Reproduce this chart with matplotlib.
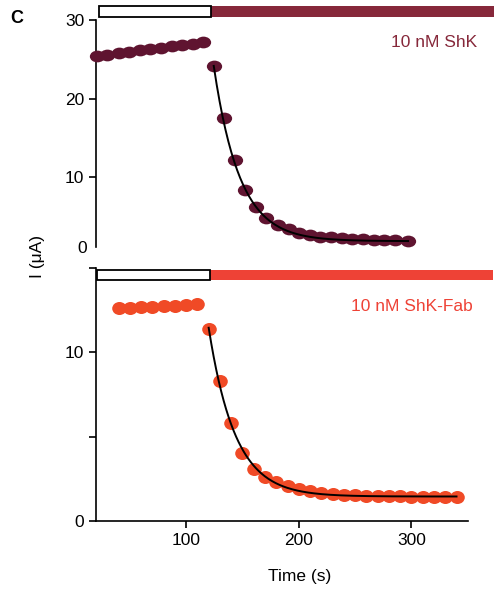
import numpy as np
import matplotlib.pyplot as plt
from matplotlib.path import Path
from matplotlib.patches import Rectangle
from matplotlib.transforms import Affine2D, blended_transform_factory

plt.rcParams["font.family"] = ["Liberation Sans", "DejaVu Sans"]
plt.rcParams["font.size"] = 12.5

# ShK recording (top trace)
shk_pre_t = [21, 30, 40, 49, 59, 68, 78, 87, 96, 106, 115]
shk_pre_i = [25.4, 25.6, 25.8, 26.0, 26.2, 26.35, 26.5, 26.7, 26.85, 27.0, 27.2]
shk_post_t = [124.5, 133.4, 143.1, 152.6, 162.4, 171.3, 181.3, 191.1, 200.5,
              210.3, 219.2, 228.6, 238.1, 247.6, 257.1, 266.5, 276.0, 285.5, 297.0]
shk_post_i = [24.2, 17.6, 12.2, 8.4, 6.2, 4.8, 3.95, 3.4, 2.9,
              2.67, 2.46, 2.38, 2.25, 2.17, 2.13, 2.04, 2.04, 2.0, 1.91]

# ShK-Fab recording (bottom trace)
fab_pre_t = [40, 50, 60, 70, 80, 90, 100, 110]
fab_pre_i = [12.6, 12.65, 12.7, 12.7, 12.75, 12.75, 12.8, 12.85]
fab_post_t = [120, 130, 140, 150, 160, 170, 180, 190, 200, 210, 220, 230,
              240, 250, 260, 270, 280, 290, 300, 310, 320, 330, 340]
fab_post_i = [11.4, 8.3, 5.8, 4.0, 3.1, 2.6, 2.3, 2.05, 1.9, 1.75, 1.65, 1.6,
              1.55, 1.52, 1.5, 1.48, 1.47, 1.46, 1.45, 1.45, 1.44, 1.44, 1.44]

# single-exponential fits: (start time, amplitude, tau, plateau)
shk_fit = (124.5, 22.3, 23.0, 1.9)
fab_fit = (120.0, 10.0, 23.5, 1.45)

shk_dot = "#5f1430"
shk_col = "#86283a"
fab_dot = "#f04a26"
fab_col = "#ee4236"

fig = plt.figure(figsize=(4.95, 5.9), dpi=100)
ax1 = fig.add_axes([0.194, 0.566, 0.751, 0.3995])
ax2 = fig.add_axes([0.194, 0.117, 0.751, 0.429])


def dot_marker(stretch):
    # circle widened horizontally
    return Path.unit_circle().transformed(Affine2D().scale(stretch, 1.0))


def fit_curve(p, t_end):
    t0, a, tau, c = p
    t = np.linspace(t0, t_end, 200)
    return t, c + a * np.exp(-(t - t0) / tau)


def draw_trace(ax, pre_t, pre_i, post_t, post_i, fit, dot, ms, stretch):
    m = dot_marker(stretch)
    ax.plot(pre_t, pre_i, ls="none", marker=m, ms=ms, color=dot,
            mec="none", clip_on=False, zorder=3)
    ax.plot(post_t, post_i, ls="none", marker=m, ms=ms, color=dot,
            mec="none", clip_on=False, zorder=3)
    ft, fi = fit_curve(fit, post_t[-1])
    ax.plot(ft, fi, color="black", lw=1.4, zorder=4, clip_on=False)


def draw_bar(ax, y0, h, x_split, x_end, col, x0):
    ax.add_patch(Rectangle((x0, y0), x_split - x0, h, facecolor="white",
                           edgecolor="black", lw=1.3, clip_on=False, zorder=5))
    ax.add_patch(Rectangle((x_split, y0), x_end - x_split, h, facecolor=col,
                           edgecolor="none", clip_on=False, zorder=4))


for ax in (ax1, ax2):
    ax.set_xlim(20, 350)
    for s in ("top", "right"):
        ax.spines[s].set_visible(False)
    ax.spines["left"].set_linewidth(1.2)
    ax.spines["bottom"].set_linewidth(1.2)
    ax.tick_params(direction="out", length=5, width=1.2, labelsize=12.5)

# top panel
draw_trace(ax1, shk_pre_t, shk_pre_i, shk_post_t, shk_post_i, shk_fit, shk_dot, 11, 1.3)
ax1.set_ylim(0, 30)
ax1.spines["left"].set_bounds(1.2, 30)
ax1.spines["bottom"].set_visible(False)
ax1.set_xticks([])
ax1.set_yticks([10, 20, 30])
ax1.text(-0.025, 1.0, "0", transform=blended_transform_factory(ax1.transAxes, ax1.transData),
         ha="right", va="center", fontsize=12.5)
draw_bar(ax1, 30.45, 1.4, 122, 373.5, shk_col, 23)
ax1.text(1.024, 0.904, "10 nM ShK", transform=ax1.transAxes, ha="right",
         va="center", color=shk_col, fontsize=12.5)

# bottom panel
draw_trace(ax2, fab_pre_t, fab_pre_i, fab_post_t, fab_post_i, fab_fit, fab_dot, 10.5, 1.12)
ax2.set_ylim(0, 15)
ax2.set_yticks([0, 5, 10, 15])
ax2.set_yticklabels(["0", "", "10", ""])
ax2.set_xticks([100, 200, 300])
ax2.set_xlabel("Time (s)", fontsize=12.5)
ax2.xaxis.set_label_coords(0.548, -0.188)
draw_bar(ax2, 14.26, 0.6, 121, 372.5, fab_col, 20.7)
ax2.text(1.013, 0.847, "10 nM ShK-Fab", transform=ax2.transAxes, ha="right",
         va="center", color=fab_col, fontsize=12.5)

fig.text(0.075, 0.566, "I (\u03bcA)", rotation=90, ha="center", va="center", fontsize=12.5)
fig.text(0.033, 0.969, "C", fontweight="bold", ha="center", va="center", fontsize=13)

fig.savefig("out.png", dpi=100)
